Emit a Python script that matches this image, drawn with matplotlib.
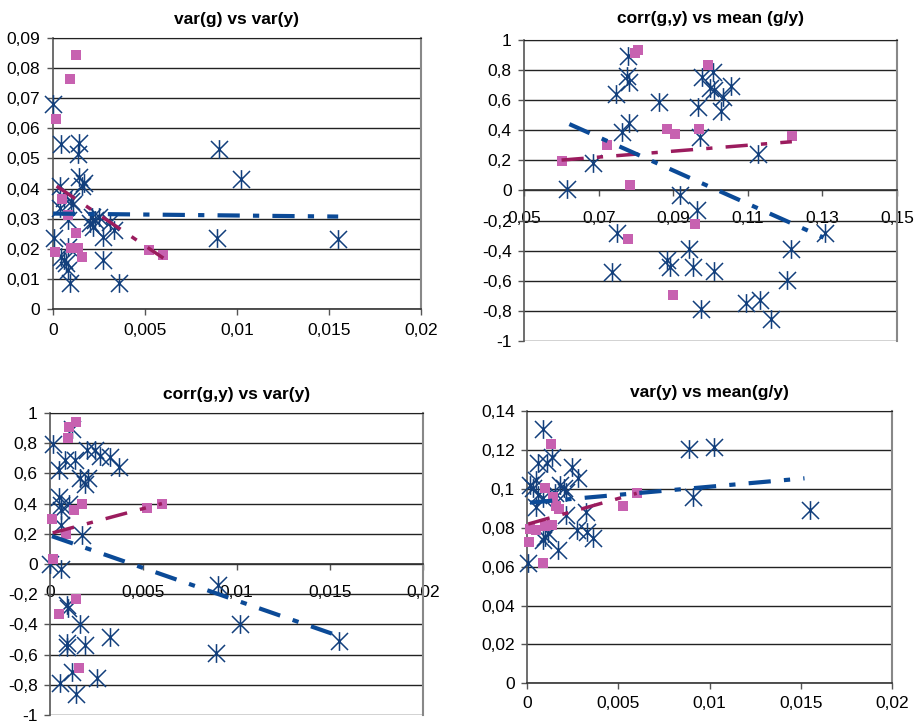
import matplotlib
matplotlib.use("Agg")
import matplotlib.pyplot as plt
from matplotlib.path import Path
from matplotlib.ticker import FuncFormatter

plt.rcParams['font.family'] = ['Liberation Sans', 'DejaVu Sans']
plt.rcParams['lines.scale_dashes'] = False

# ---- panel 1: var(g) vs var(y)
p1_blue_x = [0.0, 0.00045, 0.0014, 0.00136, 0.0004, 0.0014, 0.0017, 0.0016, 0.001, 0.0011,
             0.0006, 0.00036, 0.0008, 0.0021, 0.002, 0.0023, 0.0025, 0.0022, 0.0027, 0.0033,
             0.0031, 0.00004, 0.00045, 0.0006, 0.0007, 0.0008, 0.0009, 0.0008, 0.0027, 0.0036,
             0.009, 0.0102, 0.0089, 0.0155]
p1_blue_y = [0.068, 0.0547, 0.0552, 0.0514, 0.041, 0.044, 0.042, 0.041, 0.036, 0.035,
             0.037, 0.0334, 0.0296, 0.0307, 0.0285, 0.0296, 0.0307, 0.0274, 0.024, 0.0263,
             0.029, 0.0235, 0.0174, 0.0163, 0.0152, 0.013, 0.0086, 0.0207, 0.0163, 0.0086,
             0.0533, 0.0432, 0.0237, 0.0232]
p1_pink_x = [0.00127, 0.00094, 0.00014, 0.0005, 0.0008, 0.00127, 0.00096, 0.00136, 0.0016,
             0.0001, 0.0052, 0.006]
p1_pink_y = [0.0845, 0.0763, 0.0631, 0.0366, 0.0312, 0.0254, 0.0202, 0.0202, 0.0172,
             0.019, 0.0196, 0.018]
p1_blue_trend_x = [0.0, 0.0155]
p1_blue_trend_y = [0.0317, 0.0307]
p1_pink_trend_x = [0.0002, 0.006]
p1_pink_trend_y = [0.0408, 0.0169]

# ---- panel 2: corr(g,y) vs mean (g/y)
p2_blue_x = [0.0779, 0.0775, 0.078, 0.0745, 0.078, 0.0761, 0.0685, 0.0615, 0.0862, 0.0967,
             0.0976, 0.1006, 0.0997, 0.1008, 0.1034, 0.1028, 0.1054, 0.0972, 0.1127, 0.0918,
             0.0963, 0.075, 0.0735, 0.0882, 0.0891, 0.0943, 0.0954, 0.101, 0.0974, 0.1095,
             0.1133, 0.1162, 0.1205, 0.1216, 0.1306]
p2_blue_y = [0.894, 0.76, 0.72, 0.64, 0.446, 0.39, 0.18, 0.007, 0.585, 0.556,
             0.752, 0.79, 0.68, 0.665, 0.623, 0.53, 0.694, 0.357, 0.24, -0.027,
             -0.13, -0.28, -0.545, -0.463, -0.508, -0.392, -0.508, -0.534, -0.789, -0.747,
             -0.725, -0.851, -0.596, -0.392, -0.28]
p2_pink_x = [0.0806, 0.0797, 0.0994, 0.0884, 0.0905, 0.0968, 0.0721, 0.06, 0.0784, 0.0957,
             0.0777, 0.09, 0.1218]
p2_pink_y = [0.933, 0.911, 0.834, 0.408, 0.375, 0.408, 0.302, 0.195, 0.035, -0.226,
             -0.324, -0.696, 0.364]
p2_blue_trend_x = [0.0621, 0.1303]
p2_blue_trend_y = [0.441, -0.313]
p2_pink_trend_x = [0.06, 0.1218]
p2_pink_trend_y = [0.202, 0.324]

# ---- panel 3: corr(g,y) vs var(y)
p3_blue_x = [0.00014, 0.00116, 0.0005, 0.0008, 0.00134, 0.002, 0.0024, 0.0027, 0.0032, 0.0037,
             0.0016, 0.00206, 0.0019, 0.0005, 0.0006, 0.001, 0.0006, 0.0006, 0.0017, 0.0,
             0.0006, 0.0009, 0.00095, 0.0016, 0.0009, 0.0009, 0.0019, 0.0032, 0.00116, 0.00054,
             0.0014, 0.0025, 0.009, 0.0089, 0.0102, 0.0155]
p3_blue_y = [0.793, 0.896, 0.625, 0.691, 0.687, 0.753, 0.757, 0.713, 0.709, 0.643,
             0.572, 0.572, 0.528, 0.444, 0.389, 0.4, 0.356, 0.257, 0.191, 0.003,
             -0.03, -0.272, -0.294, -0.398, -0.526, -0.548, -0.537, -0.482, -0.713, -0.79,
             -0.861, -0.757, -0.14, -0.587, -0.4, -0.508]
p3_pink_x = [0.0014, 0.001, 0.00095, 0.0001, 0.0013, 0.0017, 0.00086, 0.00014, 0.0014, 0.0005,
             0.00156, 0.0052, 0.006]
p3_pink_y = [0.938, 0.91, 0.833, 0.301, 0.36, 0.4, 0.197, 0.03, -0.232, -0.333,
             -0.69, 0.374, 0.4]
p3_blue_trend_x = [0.0001, 0.0156]
p3_blue_trend_y = [0.184, -0.482]
p3_pink_trend_x = [0.00014, 0.006]
p3_pink_trend_y = [0.206, 0.4]

# ---- panel 4: var(y) vs mean(g/y)
p4_blue_x = [0.00084, 0.0006, 0.00106, 0.00134, 0.00243, 0.0028, 0.00015, 0.0005, 0.00033, 0.0006,
             0.00088, 0.0018, 0.002, 0.0021, 0.0015, 0.0005, 0.0021, 0.0032, 0.0027, 0.0033,
             0.0036, 0.00097, 0.00088, 0.00115, 0.0017, 0.00005, 0.00889, 0.01026, 0.0091, 0.0155]
p4_blue_y = [0.1306, 0.1131, 0.1131, 0.1165, 0.1114, 0.1054, 0.102, 0.1045, 0.1003, 0.0968,
             0.0951, 0.102, 0.1003, 0.0985, 0.0977, 0.0908, 0.0865, 0.0882, 0.0788, 0.078,
             0.0745, 0.0754, 0.0737, 0.0771, 0.0685, 0.0617, 0.1203, 0.1213, 0.096, 0.0891]
p4_pink_x = [0.00128, 0.00097, 0.00139, 0.00157, 0.00175, 0.00015, 0.0005, 0.00097, 0.00134,
             0.00011, 0.00088, 0.00526, 0.00603]
p4_pink_y = [0.123, 0.1003, 0.0959, 0.0912, 0.0895, 0.0792, 0.0788, 0.0809, 0.0814,
             0.0728, 0.0617, 0.0912, 0.0977]
p4_blue_trend_x = [0.00015, 0.0152]
p4_blue_trend_y = [0.0929, 0.1054]
p4_pink_trend_x = [0.00005, 0.006]
p4_pink_trend_y = [0.0819, 0.0977]

BLUE = '#123f7c'
PINK = '#c761b0'
BLUE_TREND = '#0b4a97'
PINK_TREND = '#9b1c5e'
DASHDOT = (0, (16, 9.5, 4.5, 9.5))

# asterisk = x plus a vertical bar
star = Path([(-1, -1), (1, 1), (-1, 1), (1, -1), (0, -1.1), (0, 1.1)],
            [Path.MOVETO, Path.LINETO, Path.MOVETO, Path.LINETO, Path.MOVETO, Path.LINETO])


def comma(v, pos):
    s = ('%.6f' % v).rstrip('0').rstrip('.')
    if s == '-0':
        s = '0'
    return s.replace('.', ',')


def panel(rect, title, bx, by, px, py, btx, bty, ptx, pty,
          xlim, xticks, ylim, yticks, zero_axis=False, xpad=6, titlepad=10):
    ax = fig.add_axes(rect)
    ax.plot(bx, by, linestyle='none', marker=star, markersize=13.5, markeredgewidth=1.1,
            color=BLUE, clip_on=False, zorder=3)
    ax.plot(px, py, linestyle='none', marker='s', markersize=6.8, markeredgewidth=0,
            color=PINK, clip_on=False, zorder=4)
    ax.plot(ptx, pty, color=PINK_TREND, lw=2.5, linestyle=DASHDOT, zorder=5)
    ax.plot(btx, bty, color=BLUE_TREND, lw=3.0, linestyle=DASHDOT, zorder=6)

    ax.set_xlim(xlim)
    ax.set_ylim(ylim)
    ax.set_xticks(xticks)
    ax.set_yticks(yticks)
    ax.xaxis.set_major_formatter(FuncFormatter(comma))
    ax.yaxis.set_major_formatter(FuncFormatter(comma))
    ax.yaxis.grid(True, color='#222222', lw=1.0)
    ax.set_axisbelow(True)
    ax.tick_params(axis='both', direction='out', length=4, width=1, color='#555555',
                   labelsize=12.5)
    ax.tick_params(axis='x', pad=xpad)
    ax.tick_params(axis='y', pad=5)
    ax.spines['left'].set_color('#555555')
    ax.spines['left'].set_linewidth(1.2)
    ax.spines['bottom'].set_color('#333333')
    ax.spines['bottom'].set_linewidth(1.2)
    ax.spines['top'].set_color('#222222')
    ax.spines['right'].set_color('#888888')
    ax.spines['right'].set_linewidth(1.5)
    if zero_axis:
        ax.spines['bottom'].set_position(('data', 0))
    ax.set_title(title, fontsize=12.5, fontweight='bold', pad=titlepad)
    return ax


fig = plt.figure(figsize=(9.18, 7.23), dpi=100)

panel([0.0577, 0.5726, 0.4009, 0.3748], 'var(g) vs var(y)',
      p1_blue_x, p1_blue_y, p1_pink_x, p1_pink_y,
      p1_blue_trend_x, p1_blue_trend_y, p1_pink_trend_x, p1_pink_trend_y,
      (0, 0.02), [0, 0.005, 0.01, 0.015, 0.02],
      (0, 0.09), [i * 0.01 for i in range(10)], xpad=6, titlepad=10)

panel([0.5711, 0.5284, 0.4060, 0.4163], 'corr(g,y) vs mean (g/y)',
      p2_blue_x, p2_blue_y, p2_pink_x, p2_pink_y,
      p2_blue_trend_x, p2_blue_trend_y, p2_pink_trend_x, p2_pink_trend_y,
      (0.05, 0.15), [0.05, 0.07, 0.09, 0.11, 0.13, 0.15],
      (-1, 1), [-1 + 0.2 * i for i in range(11)], zero_axis=True, xpad=11, titlepad=12)

panel([0.0545, 0.0111, 0.4063, 0.4177], 'corr(g,y) vs var(y)',
      p3_blue_x, p3_blue_y, p3_pink_x, p3_pink_y,
      p3_blue_trend_x, p3_blue_trend_y, p3_pink_trend_x, p3_pink_trend_y,
      (0, 0.02), [0, 0.005, 0.01, 0.015, 0.02],
      (-1, 1), [-1 + 0.2 * i for i in range(11)], zero_axis=True, xpad=11, titlepad=10)

panel([0.5744, 0.0549, 0.3973, 0.3766], 'var(y) vs mean(g/y)',
      p4_blue_x, p4_blue_y, p4_pink_x, p4_pink_y,
      p4_blue_trend_x, p4_blue_trend_y, p4_pink_trend_x, p4_pink_trend_y,
      (0, 0.02), [0, 0.005, 0.01, 0.015, 0.02],
      (0, 0.14), [i * 0.02 for i in range(8)], xpad=5, titlepad=10)

fig.savefig('out.png', dpi=100)
